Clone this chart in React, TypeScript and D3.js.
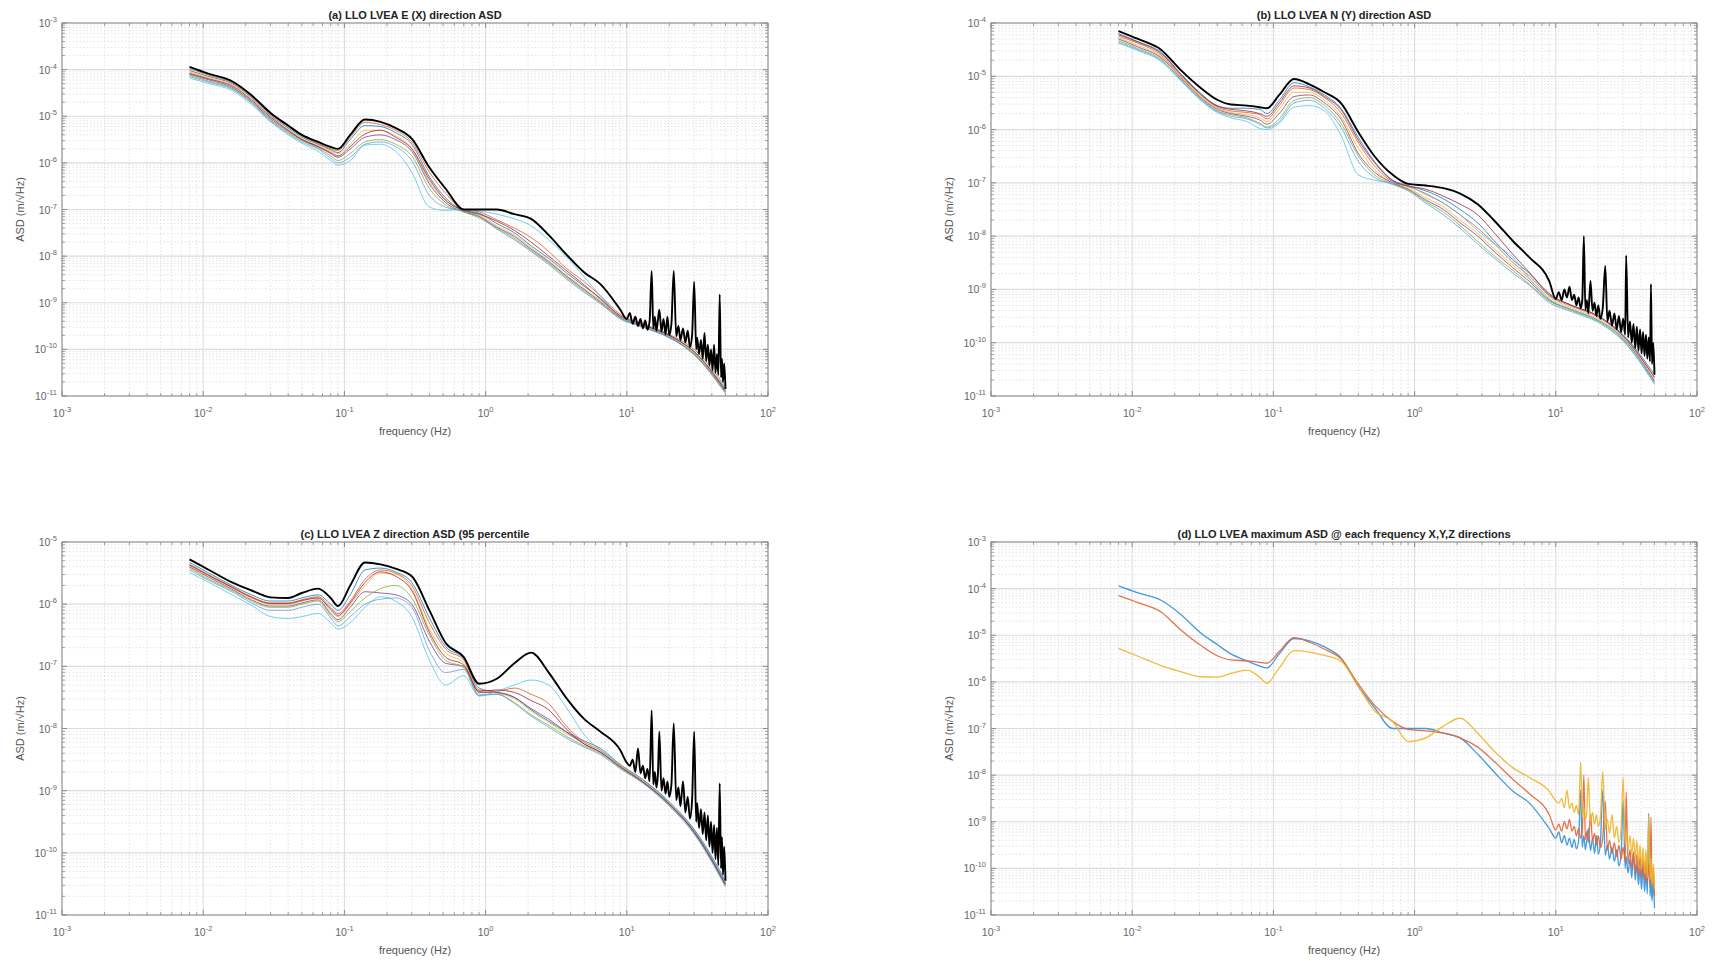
import React from 'react';
import * as d3 from 'd3';

// ---------- DATA ----------
// shared frequency grid (Hz) for the thin coloured lines
const FREQ = [0.008, 0.011, 0.016, 0.022, 0.03, 0.04, 0.05, 0.065, 0.08, 0.09, 0.11, 0.14, 0.18, 0.23, 0.3, 0.4, 0.52, 0.7, 0.9, 1.2, 1.6, 2.1, 2.8, 3.7, 5, 6.5, 9, 13, 20, 30, 50];
// dense high-frequency grid (Hz) for the envelope lines (10–50 Hz)
const FREQ_HI = [10, 10.5, 11, 11.5, 12, 12.5, 13, 13.5, 14, 14.5, 15, 15.4, 15.8, 16.2, 16.6, 17, 17.6, 18.2, 18.8, 19.4, 20, 20.7, 21.5, 22.4, 23.2, 24, 25, 26, 27, 28, 29, 30, 31, 31.5, 32.5, 33.5, 34.5, 35.5, 36.5, 37.5, 38.5, 39.5, 40.5, 41.5, 42.5, 43.5, 44.5, 45.5, 46.5, 47.2, 48, 49, 50];

// log10 ASD values, panel (a) E(X) – thin lines
const A_LINES = [
  [-4.02,-4.15,-4.3,-4.6,-4.98,-5.25,-5.45,-5.6,-5.72,-5.78,-5.5,-5.2,-5.22,-5.35,-5.6,-6.3,-6.75,-7.02,-7.08,-7.3,-7.5,-7.78,-8.05,-8.35,-8.65,-8.9,-9.3,-9.48,-9.7,-10.05,-10.85],
  [-3.98,-4.12,-4.28,-4.58,-4.95,-5.22,-5.42,-5.58,-5.7,-5.74,-5.45,-5.13,-5.18,-5.3,-5.55,-6.2,-6.65,-7.0,-7.05,-7.22,-7.4,-7.6,-7.9,-8.25,-8.55,-8.85,-9.25,-9.45,-9.68,-10.0,-10.8],
  [-4.05,-4.18,-4.33,-4.63,-5.0,-5.28,-5.48,-5.63,-5.75,-5.8,-5.6,-5.3,-5.3,-5.42,-5.68,-6.4,-6.8,-7.03,-7.12,-7.35,-7.55,-7.82,-8.1,-8.4,-8.7,-8.95,-9.3,-9.5,-9.72,-10.08,-10.9],
  [-4.1,-4.22,-4.38,-4.68,-5.05,-5.32,-5.5,-5.65,-5.8,-5.88,-5.7,-5.45,-5.4,-5.5,-5.75,-6.45,-6.85,-7.05,-7.15,-7.38,-7.58,-7.85,-8.12,-8.42,-8.72,-8.98,-9.32,-9.52,-9.75,-10.1,-10.92],
  [-4.12,-4.25,-4.4,-4.7,-5.08,-5.35,-5.52,-5.68,-5.85,-5.95,-5.8,-5.55,-5.5,-5.6,-5.85,-6.55,-6.9,-7.05,-7.18,-7.4,-7.62,-7.88,-8.15,-8.45,-8.75,-9.0,-9.33,-9.5,-9.73,-10.1,-10.9],
  [-4.18,-4.3,-4.45,-4.75,-5.12,-5.4,-5.58,-5.75,-5.95,-6.05,-5.95,-5.62,-5.6,-5.75,-6.2,-6.95,-7.02,-7.0,-7.03,-7.1,-7.2,-7.35,-7.65,-8.0,-8.45,-8.85,-9.3,-9.5,-9.72,-10.05,-10.85],
  [-4.08,-4.2,-4.35,-4.65,-5.02,-5.3,-5.5,-5.65,-5.78,-5.85,-5.65,-5.38,-5.3,-5.45,-5.7,-6.35,-6.8,-7.02,-7.1,-7.25,-7.45,-7.7,-8.0,-8.3,-8.62,-8.92,-9.28,-9.47,-9.7,-10.05,-10.88],
  [-4.15,-4.27,-4.42,-4.72,-5.1,-5.37,-5.55,-5.7,-5.9,-6.0,-5.88,-5.6,-5.55,-5.65,-5.95,-6.7,-6.95,-7.03,-7.15,-7.42,-7.65,-7.9,-8.18,-8.48,-8.78,-9.02,-9.35,-9.52,-9.75,-10.12,-10.95],
];
// panel (a) envelope: low part on FREQ[0..26], high part on FREQ_HI
const A_ENV_LO = [-3.94,-4.09,-4.25,-4.55,-4.93,-5.2,-5.4,-5.55,-5.66,-5.7,-5.4,-5.07,-5.12,-5.25,-5.48,-6.1,-6.55,-7.0,-7.0,-7.0,-7.1,-7.2,-7.55,-7.95,-8.35,-8.6,-9.15];
const A_ENV_HI = [-9.35,-9.22,-9.45,-9.3,-9.5,-9.35,-9.55,-9.38,-9.58,-9.4,-8.32,-9.55,-9.3,-9.6,-9.38,-9.15,-9.62,-9.35,-9.68,-9.3,-9.7,-9.45,-8.32,-9.72,-9.5,-9.8,-9.55,-9.85,-9.6,-9.95,-9.7,-8.55,-10.0,-9.75,-10.1,-9.8,-10.2,-9.65,-10.25,-9.9,-10.35,-10.0,-10.45,-9.9,-10.5,-10.1,-10.55,-8.82,-10.6,-10.2,-10.7,-10.3,-10.85];

// panel (b) N(Y)
const B_LINES = [
  [-4.2,-4.35,-4.55,-4.95,-5.3,-5.55,-5.6,-5.6,-5.62,-5.7,-5.45,-5.12,-5.2,-5.35,-5.6,-6.15,-6.6,-6.95,-7.05,-7.15,-7.3,-7.5,-7.75,-8.1,-8.45,-8.7,-9.1,-9.3,-9.5,-9.85,-10.6],
  [-4.25,-4.38,-4.6,-4.98,-5.33,-5.58,-5.65,-5.68,-5.72,-5.8,-5.55,-5.22,-5.25,-5.4,-5.68,-6.25,-6.68,-6.98,-7.07,-7.2,-7.38,-7.6,-7.85,-8.15,-8.5,-8.75,-9.12,-9.32,-9.52,-9.88,-10.65],
  [-4.28,-4.42,-4.63,-5.0,-5.36,-5.6,-5.68,-5.72,-5.78,-5.85,-5.62,-5.3,-5.3,-5.45,-5.75,-6.35,-6.75,-7.0,-7.1,-7.28,-7.45,-7.7,-7.95,-8.25,-8.55,-8.8,-9.15,-9.35,-9.55,-9.9,-10.7],
  [-4.3,-4.45,-4.65,-5.02,-5.38,-5.62,-5.7,-5.75,-5.82,-5.9,-5.7,-5.38,-5.35,-5.5,-5.8,-6.45,-6.8,-7.0,-7.12,-7.32,-7.5,-7.75,-8.0,-8.3,-8.6,-8.85,-9.2,-9.38,-9.58,-9.92,-10.72],
  [-4.33,-4.48,-4.68,-5.05,-5.4,-5.65,-5.72,-5.78,-5.88,-5.95,-5.8,-5.45,-5.4,-5.55,-5.88,-6.5,-6.85,-7.02,-7.13,-7.35,-7.55,-7.8,-8.1,-8.38,-8.65,-8.9,-9.22,-9.4,-9.6,-9.95,-10.75],
  [-4.38,-4.52,-4.72,-5.08,-5.43,-5.68,-5.78,-5.85,-5.98,-6.0,-5.88,-5.58,-5.55,-5.65,-6.1,-6.85,-6.95,-7.0,-7.05,-7.22,-7.38,-7.6,-7.9,-8.15,-8.4,-8.8,-9.18,-9.38,-9.58,-9.92,-10.75],
  [-4.22,-4.36,-4.57,-4.96,-5.32,-5.56,-5.62,-5.65,-5.7,-5.75,-5.5,-5.18,-5.22,-5.38,-5.62,-6.2,-6.62,-6.96,-7.06,-7.12,-7.25,-7.4,-7.6,-7.95,-8.35,-8.68,-9.08,-9.3,-9.5,-9.87,-10.65],
  [-4.36,-4.5,-4.7,-5.06,-5.42,-5.66,-5.75,-5.8,-5.9,-5.97,-5.85,-5.5,-5.45,-5.6,-5.95,-6.6,-6.9,-7.03,-7.15,-7.38,-7.6,-7.85,-8.15,-8.42,-8.7,-8.92,-9.25,-9.42,-9.62,-9.97,-10.78],
];
const B_ENV_LO = [-4.15,-4.3,-4.5,-4.88,-5.2,-5.44,-5.53,-5.55,-5.58,-5.6,-5.35,-5.05,-5.15,-5.3,-5.5,-6.05,-6.5,-6.85,-7.02,-7.05,-7.1,-7.2,-7.4,-7.72,-8.1,-8.4,-8.85];
const B_ENV_HI = [-9.18,-9.05,-9.2,-9.0,-9.15,-8.95,-9.2,-9.1,-9.3,-9.15,-9.35,-9.2,-8.0,-9.38,-9.2,-9.45,-8.84,-9.4,-9.25,-9.5,-9.3,-9.55,-9.35,-8.56,-9.6,-9.4,-9.68,-9.45,-9.75,-9.5,-9.8,-9.55,-9.85,-8.36,-9.9,-9.6,-10.0,-9.65,-10.1,-9.7,-10.15,-9.75,-10.2,-9.8,-10.25,-9.85,-10.3,-9.9,-10.35,-8.9,-10.4,-10.0,-10.6];

// panel (c) Z
const C_LINES = [
  [-5.33,-5.5,-5.7,-5.85,-5.95,-5.95,-5.9,-5.85,-6.0,-6.1,-5.85,-5.45,-5.42,-5.48,-5.65,-6.22,-6.68,-6.88,-7.35,-7.42,-7.5,-7.7,-7.88,-8.05,-8.2,-8.32,-8.58,-8.82,-9.18,-9.62,-10.45],
  [-5.36,-5.53,-5.72,-5.88,-5.98,-5.98,-5.93,-5.88,-6.05,-6.15,-5.95,-5.6,-5.45,-5.5,-5.7,-6.3,-6.72,-6.9,-7.38,-7.4,-7.35,-7.45,-7.6,-7.95,-8.22,-8.35,-8.6,-8.83,-9.2,-9.64,-10.48],
  [-5.38,-5.55,-5.74,-5.9,-6.0,-6.0,-5.95,-5.9,-6.1,-6.2,-6.0,-5.7,-5.5,-5.52,-5.75,-6.4,-6.78,-6.95,-7.4,-7.43,-7.52,-7.72,-7.9,-8.08,-8.22,-8.35,-8.6,-8.85,-9.2,-9.65,-10.5],
  [-5.4,-5.57,-5.76,-5.93,-6.03,-6.03,-5.98,-5.93,-6.15,-6.25,-6.05,-5.8,-5.82,-5.85,-6.0,-6.6,-6.95,-7.0,-7.42,-7.42,-7.5,-7.68,-7.85,-8.05,-8.25,-8.38,-8.62,-8.86,-9.22,-9.66,-10.5],
  [-5.42,-5.6,-5.78,-5.95,-6.05,-6.05,-6.0,-5.95,-6.18,-6.28,-6.12,-5.9,-5.75,-5.7,-5.9,-6.5,-6.9,-7.02,-7.45,-7.45,-7.58,-7.78,-7.95,-8.12,-8.28,-8.4,-8.63,-8.87,-9.23,-9.68,-10.52],
  [-5.49,-5.65,-5.85,-6.02,-6.2,-6.23,-6.2,-6.15,-6.3,-6.4,-6.3,-6.05,-5.88,-5.95,-6.2,-6.9,-7.3,-7.15,-7.48,-7.4,-7.3,-7.22,-7.3,-7.65,-8.1,-8.35,-8.58,-8.83,-9.2,-9.64,-10.48],
  [-5.37,-5.54,-5.73,-5.89,-5.99,-5.99,-5.94,-5.9,-6.08,-6.18,-5.98,-5.65,-5.48,-5.55,-5.78,-6.45,-6.85,-6.98,-7.4,-7.38,-7.42,-7.55,-7.7,-8.0,-8.25,-8.38,-8.62,-8.86,-9.22,-9.67,-10.52],
  [-5.45,-5.62,-5.8,-5.98,-6.1,-6.1,-6.05,-6.0,-6.22,-6.35,-6.2,-6.0,-5.92,-5.9,-6.05,-6.75,-7.1,-7.05,-7.47,-7.45,-7.6,-7.8,-7.98,-8.15,-8.3,-8.42,-8.65,-8.88,-9.25,-9.7,-10.55],
];
const C_ENV_LO = [-5.28,-5.45,-5.65,-5.78,-5.89,-5.9,-5.82,-5.75,-5.9,-6.03,-5.7,-5.33,-5.36,-5.43,-5.55,-6.1,-6.62,-6.85,-7.28,-7.2,-6.95,-6.78,-7.1,-7.5,-7.85,-8.05,-8.35];
const C_ENV_HI = [-8.55,-8.6,-8.5,-8.7,-8.32,-8.72,-8.6,-8.8,-8.65,-8.85,-7.71,-8.9,-8.7,-8.95,-8.75,-8.05,-9.0,-8.8,-9.05,-8.85,-9.1,-8.9,-7.92,-9.15,-8.95,-9.25,-8.85,-9.35,-9.1,-9.45,-9.15,-8.05,-9.5,-9.2,-9.6,-9.3,-9.7,-9.35,-9.8,-9.4,-9.9,-9.5,-10.0,-9.55,-10.1,-9.6,-10.2,-8.88,-10.25,-9.75,-10.35,-9.9,-10.45];

const TITLES = [
  '(a) LLO LVEA E (X) direction ASD',
  '(b) LLO LVEA N (Y) direction ASD',
  '(c) LLO LVEA Z direction ASD (95 percentile',
  '(d) LLO LVEA maximum ASD @ each frequency X,Y,Z directions',
];
const Y_TOP_EXP = [-3, -4, -5, -3];
const Y_BOTTOM_EXP = -11;
const X_EXP = [-3, -2, -1, 0, 1, 2];
const X_LABEL = 'frequency (Hz)';
const Y_LABEL = 'ASD (m/\u221AHz)';

const THIN_COLORS = ['#0072BD', '#D95319', '#EDB120', '#7E2F8E', '#77AC30', '#4DBEEE', '#A2142F', '#5a9bd0'];
const MAX_COLORS = ['#2f8fd8', '#e0643a', '#f0b428'];

// ---------- CHART ----------
type Pt = [number, number];
const toPts = (f: number[], v: number[]): Pt[] => v.map((lv, i) => [f[i], Math.pow(10, lv)]);
const ENV_FREQ = FREQ.slice(0, 27).concat(FREQ_HI);

const FONT = 'Liberation Sans, Arial, Helvetica, sans-serif';

function Pow({ x, y, e, anchor }: { x: number; y: number; e: number; anchor: string }) {
  return (
    <text x={x} y={y} textAnchor={anchor as any} fontSize={10.5} fill="#666" fontFamily={FONT}>
      10<tspan dy={-5} fontSize={7.5}>{String(e)}</tspan>
    </text>
  );
}

function Panel(props: { left: number; top: number; w: number; h: number; idx: number; thin: number[][] | null; envs: number[][] }) {
  const { left, top, w, h, idx, thin, envs } = props;
  const yTop = Y_TOP_EXP[idx];
  const xs = d3.scaleLog().domain([1e-3, 1e2]).range([0, w]);
  const ys = d3.scaleLog().domain([Math.pow(10, Y_BOTTOM_EXP), Math.pow(10, yTop)]).range([h, 0]);
  const line = d3.line<Pt>().x(d => xs(d[0])).y(d => ys(d[1])).curve(d3.curveMonotoneX);

  const xMajor = X_EXP.map(e => Math.pow(10, e));
  const xMinor: number[] = [];
  for (let e = -3; e < 2; e++) for (let m = 2; m <= 9; m++) xMinor.push(m * Math.pow(10, e));
  const yExps: number[] = [];
  for (let e = Y_BOTTOM_EXP; e <= yTop; e++) yExps.push(e);
  const yMinor: number[] = [];
  for (let e = Y_BOTTOM_EXP; e < yTop; e++) for (let m = 2; m <= 9; m++) yMinor.push(m * Math.pow(10, e));

  const axisCol = '#8a8a8a';
  return (
    <g transform={`translate(${left},${top})`}>
      <rect x={0} y={0} width={w} height={h} fill="#fff" />
      {/* minor grid */}
      {xMinor.map((v, i) => (
        <line key={'xm' + i} x1={xs(v)} x2={xs(v)} y1={0} y2={h} stroke="#d9d9d9" strokeWidth={0.7} strokeDasharray="1.5,2" />
      ))}
      {yMinor.map((v, i) => (
        <line key={'ym' + i} x1={0} x2={w} y1={ys(v)} y2={ys(v)} stroke="#d9d9d9" strokeWidth={0.7} strokeDasharray="1.5,2" />
      ))}
      {/* major grid */}
      {xMajor.map((v, i) => (
        <line key={'xg' + i} x1={xs(v)} x2={xs(v)} y1={0} y2={h} stroke="#dcdcdc" strokeWidth={1} />
      ))}
      {yExps.map((e, i) => (
        <line key={'yg' + i} x1={0} x2={w} y1={ys(Math.pow(10, e))} y2={ys(Math.pow(10, e))} stroke="#dcdcdc" strokeWidth={1.2} />
      ))}
      {/* data */}
      <g clipPath={`url(#clip${idx})`}>
        {thin && thin.map((vals, i) => (
          <path key={'t' + i} d={line(toPts(FREQ, vals)) || ''} fill="none" stroke={THIN_COLORS[i % THIN_COLORS.length]} strokeWidth={0.9} strokeOpacity={0.85} strokeLinejoin="round" />
        ))}
        {thin ? envs.map((vals, i) => (
          <path key={'e' + i} d={line(toPts(ENV_FREQ, vals)) || ''} fill="none" stroke="#000" strokeWidth={1.9} strokeLinejoin="round" />
        )) : envs.map((vals, i) => (
          <path key={'m' + i} d={line(toPts(ENV_FREQ, vals)) || ''} fill="none" stroke={MAX_COLORS[i]} strokeWidth={1.3} strokeOpacity={0.9} strokeLinejoin="round" />
        ))}
      </g>
      <defs>
        <clipPath id={`clip${idx}`}><rect x={0} y={0} width={w} height={h} /></clipPath>
      </defs>
      {/* box */}
      <rect x={0} y={0} width={w} height={h} fill="none" stroke={axisCol} strokeWidth={1} />
      {/* ticks */}
      {xMajor.map((v, i) => (
        <g key={'xt' + i}>
          <line x1={xs(v)} x2={xs(v)} y1={h} y2={h - 5} stroke={axisCol} />
          <line x1={xs(v)} x2={xs(v)} y1={0} y2={5} stroke={axisCol} />
        </g>
      ))}
      {xMinor.map((v, i) => (
        <g key={'xmt' + i}>
          <line x1={xs(v)} x2={xs(v)} y1={h} y2={h - 3} stroke={axisCol} strokeWidth={0.8} />
          <line x1={xs(v)} x2={xs(v)} y1={0} y2={3} stroke={axisCol} strokeWidth={0.8} />
        </g>
      ))}
      {yExps.map((e, i) => (
        <g key={'yt' + i}>
          <line x1={0} x2={5} y1={ys(Math.pow(10, e))} y2={ys(Math.pow(10, e))} stroke={axisCol} />
          <line x1={w} x2={w - 5} y1={ys(Math.pow(10, e))} y2={ys(Math.pow(10, e))} stroke={axisCol} />
        </g>
      ))}
      {yMinor.map((v, i) => (
        <g key={'ymt' + i}>
          <line x1={0} x2={3} y1={ys(v)} y2={ys(v)} stroke={axisCol} strokeWidth={0.8} />
          <line x1={w} x2={w - 3} y1={ys(v)} y2={ys(v)} stroke={axisCol} strokeWidth={0.8} />
        </g>
      ))}
      {/* tick labels */}
      {X_EXP.map((e, i) => (
        <Pow key={'xl' + i} x={xs(Math.pow(10, e))} y={h + 21} e={e} anchor="middle" />
      ))}
      {yExps.map((e, i) => (
        <Pow key={'yl' + i} x={-5} y={ys(Math.pow(10, e)) + 4} e={e} anchor="end" />
      ))}
      {/* labels */}
      <text x={w / 2} y={-4} textAnchor="middle" fontSize={11} fontWeight="bold" fill="#222" fontFamily={FONT}>{TITLES[idx]}</text>
      <text x={w / 2} y={h + 39} textAnchor="middle" fontSize={11} fill="#555" fontFamily={FONT}>{X_LABEL}</text>
      <text transform={`translate(${-38},${h / 2}) rotate(-90)`} textAnchor="middle" fontSize={11} fill="#555" fontFamily={FONT}>{Y_LABEL}</text>
    </g>
  );
}

export default function App() {
  const W = 706, H = 373;
  return (
    <svg width={1714} height={961} style={{ position: 'absolute', left: 0, top: 0, background: '#fff' }}>
      <rect width={1714} height={961} fill="#fff" />
      <Panel left={62} top={23} w={W} h={H} idx={0} thin={A_LINES} envs={[A_ENV_LO.concat(A_ENV_HI)]} />
      <Panel left={991} top={23} w={W} h={H} idx={1} thin={B_LINES} envs={[B_ENV_LO.concat(B_ENV_HI)]} />
      <Panel left={62} top={542} w={W} h={H} idx={2} thin={C_LINES} envs={[C_ENV_LO.concat(C_ENV_HI)]} />
      <Panel left={991} top={542} w={W} h={H} idx={3} thin={null} envs={[A_ENV_LO.concat(A_ENV_HI), B_ENV_LO.concat(B_ENV_HI), C_ENV_LO.concat(C_ENV_HI)]} />
    </svg>
  );
}
